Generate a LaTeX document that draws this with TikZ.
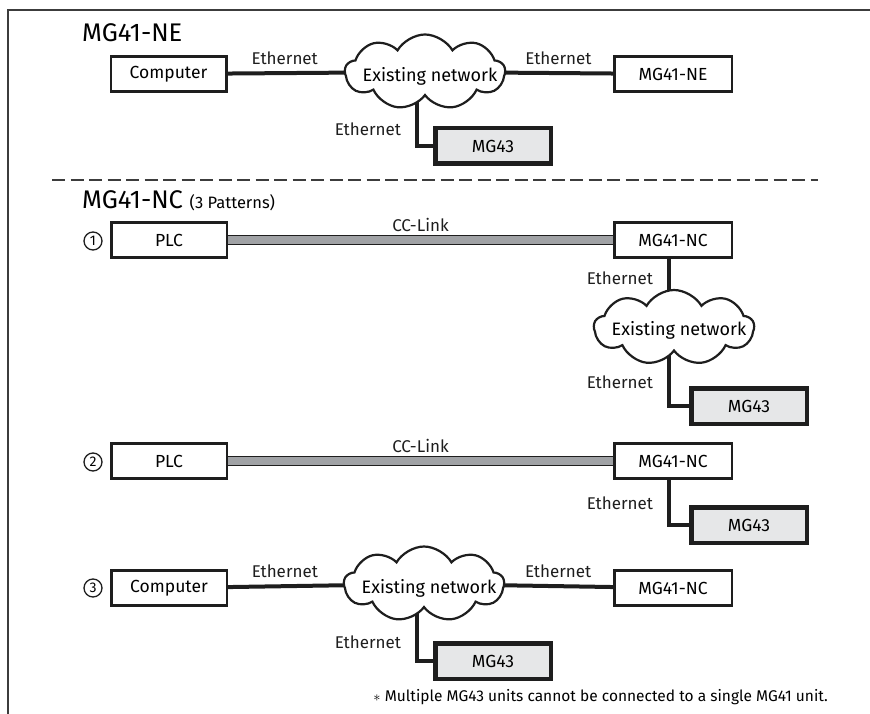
\documentclass[tikz,border=0pt]{standalone}
\usepackage{fontspec}
\setmainfont{Fira Sans}
\usetikzlibrary{positioning, shapes.symbols, backgrounds}
\definecolor{mydark}{RGB}{30,30,30}
\definecolor{framegray}{RGB}{60,60,60}
\definecolor{ccgray}{RGB}{160,162,165}
\definecolor{mg43gray}{RGB}{230,231,232}
\tikzset{
  box/.style={rectangle, draw=mydark, fill=white,
    minimum width=115.5pt, minimum height=35pt,
    font=\fontsize{17.5}{20}\selectfont, inner sep=0pt, line width=2.5pt},
  mgbox/.style={box, minimum width=117.5pt},
  gatebox/.style={rectangle, draw=mydark, fill=mg43gray,
    minimum width=115.5pt, minimum height=35.5pt,
    font=\fontsize{17.5}{20}\selectfont, inner sep=0pt, line width=4.5pt},
  netcloud/.style={cloud, cloud puffs=9, cloud puff arc=120, cloud ignores aspect,
    draw=mydark, fill=white, line width=2.2pt, inner sep=0pt,
    minimum width=160pt, minimum height=75pt},
  cloudtext/.style={font=\fontsize{18}{20}\selectfont, inner sep=0pt},
  lbl/.style={font=\fontsize{17}{20}\selectfont, inner sep=2pt},
  num/.style={circle, draw=mydark, line width=1.3pt, minimum size=18pt,
    inner sep=0pt, font=\fontsize{14}{14}\selectfont},
  title/.style={font=\fontsize{25.5}{28}\selectfont, inner sep=0pt, anchor=base west},
  eth/.style={line width=4pt, color=mydark},
  cclink/.style={color=mydark, line width=1pt, double=ccgray, double distance=8pt},
  frame/.style={line width=2.5pt, color=framegray}
}

\begin{document}
\begin{tikzpicture}[x=1pt, y=-1pt]
  \useasboundingbox (0,0) rectangle (870,714);
  \draw[frame] (870,10) -- (8,10) -- (8,714);

  % MG41-NE
  \node[title] (titlene) at (82,42) {MG41-NE};
  \node[box] (comp1) at (168.5,74) {Computer};
  \node[netcloud] (net1) at (425,72) {};
  \node[cloudtext] (net1txt) at ([xshift=5pt, yshift=-4pt]net1.center) {Existing network};
  \node[mgbox, right=385.5pt of comp1] (ne) {MG41-NE};
  \node[gatebox] (mg43a) at (493,146) {MG43};

  \draw[frame, dash pattern=on 13pt off 5.5pt] (52,180) -- (818,180);

  % MG41-NC
  \node[title] (titlenc) at (82,209) {MG41-NC {\fontsize{16.5}{18}\selectfont (3 Patterns)}};

  \node[num] (n1) at (93,241) {1};
  \node[box] (plc1) at (169,240) {PLC};
  \node[mgbox, right=385pt of plc1] (nc1) {MG41-NC};
  \node[netcloud] (net2) at (674,327.5) {};
  \node[cloudtext] (net2txt) at ([xshift=5pt, yshift=-3pt]net2.center) {Existing network};
  \node[gatebox] (mg43b) at (749,406) {MG43};

  \node[num] (n2) at (93,462) {2};
  \node[box] (plc2) at (169,461) {PLC};
  \node[mgbox, right=385pt of plc2] (nc2) {MG41-NC};
  \node[gatebox] (mg43c) at (749,525) {MG43};

  \node[num] (n3) at (93,588) {3};
  \node[box] (comp3) at (169,588) {Computer};
  \node[netcloud] (net3) at (424,584) {};
  \node[cloudtext] (net3txt) at ([xshift=5pt, yshift=-4pt]net3.center) {Existing network};
  \node[mgbox, right=385pt of comp3] (nc3) {MG41-NC};
  \node[gatebox] (mg43d) at (493,661) {MG43};

  \node[lbl, anchor=east, font=\fontsize{15.5}{18}\selectfont] (note) at (830,697) {$\ast$ Multiple MG43 units cannot be connected to a single MG41 unit.};

  \begin{scope}[on background layer]
    \draw[eth] (comp1) -- node[lbl, above=4pt, pos=0.29] {Ethernet} (net1.center);
    \draw[eth] (net1.center) -- node[lbl, above=4pt, pos=0.71] {Ethernet} (ne);
    \draw[eth] ([xshift=-8pt]net1.center) |- node[lbl, left=12pt, pos=0.39] {Ethernet} (mg43a.west);

    \draw[cclink] (plc1) -- node[lbl, above=6pt] {CC-Link} (nc1);
    \draw[eth] ([xshift=-4pt]nc1.south) -- node[lbl, left=12pt, pos=0.28] {Ethernet} ([xshift=-4pt]nc1.south |- net2.center);
    \draw[eth] ([xshift=-5pt]net2.center) |- node[lbl, left=12pt, pos=0.35] {Ethernet} (mg43b.west);

    \draw[cclink] (plc2) -- node[lbl, above=6pt] {CC-Link} (nc2);
    \draw[eth] ([xshift=-4pt]nc2.south) |- node[lbl, left=12pt, pos=0.26] {Ethernet} (mg43c.west);

    \draw[eth] (comp3) -- node[lbl, above=4pt, pos=0.29] {Ethernet} (net3.center);
    \draw[eth] (net3.center) -- node[lbl, above=4pt, pos=0.71] {Ethernet} (nc3);
    \draw[eth] ([xshift=-7pt]net3.center) |- node[lbl, left=12pt, pos=0.38] {Ethernet} (mg43d.west);
  \end{scope}
\end{tikzpicture}
\end{document}
